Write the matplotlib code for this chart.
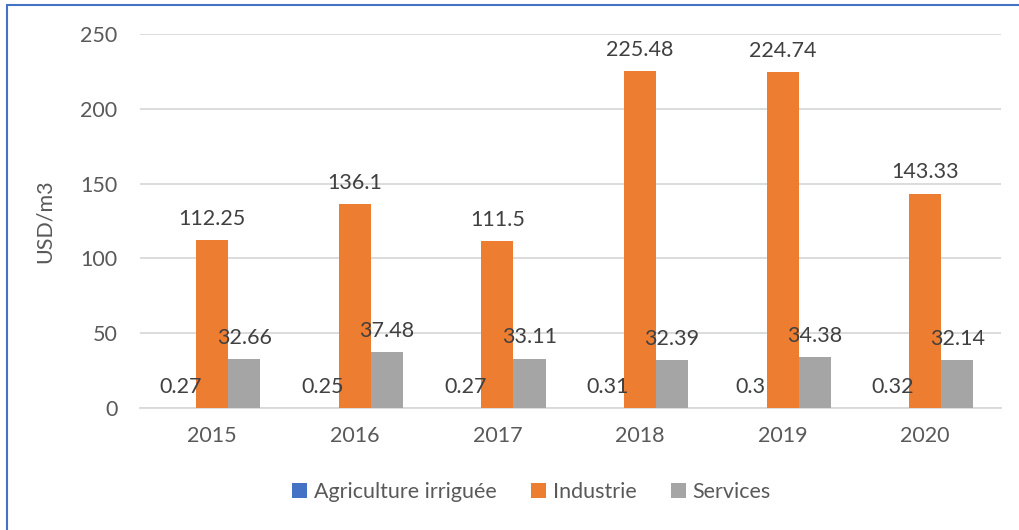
import numpy as np
import matplotlib.pyplot as plt
from matplotlib.patches import Rectangle

plt.rcParams['font.family'] = ['Lato', 'DejaVu Sans']

# Données
annees = ['2015', '2016', '2017', '2018', '2019', '2020']
agriculture = [0.27, 0.25, 0.27, 0.31, 0.3, 0.32]
industrie = [112.25, 136.1, 111.5, 225.48, 224.74, 143.33]
services = [32.66, 37.48, 33.11, 32.39, 34.38, 32.14]

series = [
    ('Agriculture irriguée', agriculture, '#4472C4'),
    ('Industrie', industrie, '#ED7D31'),
    ('Services', services, '#A5A5A5'),
]

texte = '#595959'
taille = 15.5

fig = plt.figure(figsize=(10.19, 5.30), dpi=100)
ax = fig.add_axes([0.137, 0.230, 0.845, 0.706])

x = np.arange(len(annees))
w = 0.225
for i, (nom, vals, couleur) in enumerate(series):
    barres = ax.bar(x + (i - 1) * w, vals, w, color=couleur, label=nom, zorder=3)
    ax.bar_label(barres, labels=[f'{v:g}' for v in vals], padding=8,
                 fontsize=taille, color='#404040', zorder=4)

ax.set_xlim(-0.51, 5.53)
ax.set_ylim(0, 250)
ax.set_yticks(range(0, 251, 50))
ax.set_xticks(x)
ax.set_xticklabels(annees)
ax.yaxis.grid(True, color='#D9D9D9', linewidth=1.3, zorder=0)
ax.set_axisbelow(True)
for s in ['top', 'right', 'left']:
    ax.spines[s].set_visible(False)
ax.spines['bottom'].set_color('#D9D9D9')
ax.spines['bottom'].set_linewidth(1.3)
ax.tick_params(length=0, labelsize=taille, labelcolor=texte)
ax.tick_params(axis='y', pad=16)
ax.tick_params(axis='x', pad=13)
ax.set_ylabel('USD/m3', fontsize=taille, color=texte, labelpad=18)

ax.legend(loc='upper center', bbox_to_anchor=(0.455, -0.145), ncol=3, frameon=False,
          fontsize=taille, labelcolor=texte, handlelength=0.7, handleheight=0.7,
          handletextpad=0.3, columnspacing=1.6)

# cadre bleu autour du graphique
fig.patches.append(Rectangle((7 / 1019, -0.05), 1.1, 1 - 5 / 530 + 0.05,
                             transform=fig.transFigure, fill=False,
                             edgecolor='#4472C4', linewidth=1.5))

fig.savefig('out.png', dpi=100)
